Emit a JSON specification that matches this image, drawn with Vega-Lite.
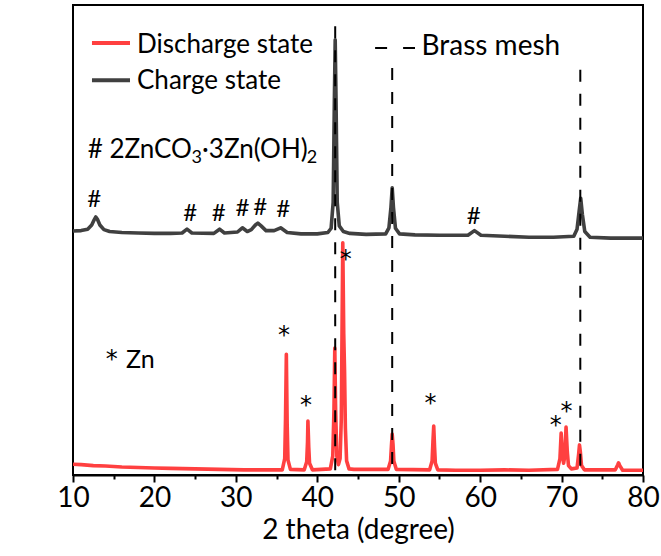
{
  "$schema": "https://vega.github.io/schema/vega-lite/v6.json",
  "width": 570,
  "height": 470,
  "autosize": {"type": "none"},
  "padding": {"left": 73, "top": 5, "right": 18, "bottom": 81},
  "background": "white",
  "config": {
    "font": "Lato",
    "view": {"stroke": "#000", "strokeWidth": 2},
    "axis": {"grid": false}
  },
  "datasets": {
    "spectra": [
      {"state": "Discharge state", "theta": 10, "intensity": 2.3},
      {"state": "Discharge state", "theta": 11, "intensity": 2.2},
      {"state": "Discharge state", "theta": 12.5, "intensity": 2.0},
      {"state": "Discharge state", "theta": 14, "intensity": 1.9},
      {"state": "Discharge state", "theta": 16, "intensity": 1.7},
      {"state": "Discharge state", "theta": 18, "intensity": 1.6},
      {"state": "Discharge state", "theta": 20, "intensity": 1.5},
      {"state": "Discharge state", "theta": 22, "intensity": 1.4},
      {"state": "Discharge state", "theta": 25, "intensity": 1.3},
      {"state": "Discharge state", "theta": 28, "intensity": 1.2},
      {"state": "Discharge state", "theta": 31, "intensity": 1.1},
      {"state": "Discharge state", "theta": 34, "intensity": 1.1},
      {"state": "Discharge state", "theta": 35.7, "intensity": 1.1},
      {"state": "Discharge state", "theta": 36.0, "intensity": 3.5},
      {"state": "Discharge state", "theta": 36.1, "intensity": 12},
      {"state": "Discharge state", "theta": 36.2, "intensity": 25.7},
      {"state": "Discharge state", "theta": 36.3, "intensity": 11},
      {"state": "Discharge state", "theta": 36.4, "intensity": 3.2},
      {"state": "Discharge state", "theta": 36.7, "intensity": 1.2},
      {"state": "Discharge state", "theta": 38.4, "intensity": 1.1},
      {"state": "Discharge state", "theta": 38.7, "intensity": 2.8},
      {"state": "Discharge state", "theta": 38.8, "intensity": 7},
      {"state": "Discharge state", "theta": 38.85, "intensity": 11.5},
      {"state": "Discharge state", "theta": 38.95, "intensity": 6},
      {"state": "Discharge state", "theta": 39.05, "intensity": 2.5},
      {"state": "Discharge state", "theta": 39.4, "intensity": 1.1},
      {"state": "Discharge state", "theta": 41.6, "intensity": 1.3},
      {"state": "Discharge state", "theta": 41.9, "intensity": 4},
      {"state": "Discharge state", "theta": 42.05, "intensity": 14},
      {"state": "Discharge state", "theta": 42.15, "intensity": 27.0},
      {"state": "Discharge state", "theta": 42.25, "intensity": 14},
      {"state": "Discharge state", "theta": 42.4, "intensity": 4},
      {"state": "Discharge state", "theta": 42.6, "intensity": 2.2},
      {"state": "Discharge state", "theta": 42.8, "intensity": 3.5},
      {"state": "Discharge state", "theta": 42.95, "intensity": 12},
      {"state": "Discharge state", "theta": 43.13, "intensity": 49.4},
      {"state": "Discharge state", "theta": 43.25, "intensity": 30},
      {"state": "Discharge state", "theta": 43.35, "intensity": 22},
      {"state": "Discharge state", "theta": 43.45, "intensity": 10},
      {"state": "Discharge state", "theta": 43.6, "intensity": 3},
      {"state": "Discharge state", "theta": 43.9, "intensity": 1.3},
      {"state": "Discharge state", "theta": 44.5, "intensity": 1.2},
      {"state": "Discharge state", "theta": 48.7, "intensity": 1.2},
      {"state": "Discharge state", "theta": 49.0, "intensity": 3},
      {"state": "Discharge state", "theta": 49.1, "intensity": 6},
      {"state": "Discharge state", "theta": 49.2, "intensity": 8.7},
      {"state": "Discharge state", "theta": 49.3, "intensity": 6.5},
      {"state": "Discharge state", "theta": 49.4, "intensity": 3},
      {"state": "Discharge state", "theta": 49.7, "intensity": 1.2},
      {"state": "Discharge state", "theta": 53.8, "intensity": 1.1},
      {"state": "Discharge state", "theta": 54.1, "intensity": 3},
      {"state": "Discharge state", "theta": 54.2, "intensity": 7},
      {"state": "Discharge state", "theta": 54.3, "intensity": 10.4},
      {"state": "Discharge state", "theta": 54.4, "intensity": 6},
      {"state": "Discharge state", "theta": 54.5, "intensity": 2.5},
      {"state": "Discharge state", "theta": 54.8, "intensity": 1.1},
      {"state": "Discharge state", "theta": 57, "intensity": 1.0},
      {"state": "Discharge state", "theta": 60, "intensity": 1.0},
      {"state": "Discharge state", "theta": 63, "intensity": 1.1},
      {"state": "Discharge state", "theta": 66, "intensity": 1.0},
      {"state": "Discharge state", "theta": 69.5, "intensity": 1.2},
      {"state": "Discharge state", "theta": 69.8, "intensity": 3.5},
      {"state": "Discharge state", "theta": 69.95, "intensity": 8.9},
      {"state": "Discharge state", "theta": 70.1, "intensity": 4.5},
      {"state": "Discharge state", "theta": 70.25, "intensity": 2.5},
      {"state": "Discharge state", "theta": 70.4, "intensity": 4},
      {"state": "Discharge state", "theta": 70.55, "intensity": 10.2},
      {"state": "Discharge state", "theta": 70.7, "intensity": 5},
      {"state": "Discharge state", "theta": 70.85, "intensity": 2},
      {"state": "Discharge state", "theta": 71.2, "intensity": 1.3},
      {"state": "Discharge state", "theta": 71.9, "intensity": 1.5},
      {"state": "Discharge state", "theta": 72.1, "intensity": 4.5},
      {"state": "Discharge state", "theta": 72.2, "intensity": 6.4},
      {"state": "Discharge state", "theta": 72.3, "intensity": 5},
      {"state": "Discharge state", "theta": 72.45, "intensity": 2},
      {"state": "Discharge state", "theta": 72.8, "intensity": 1.1},
      {"state": "Discharge state", "theta": 76.6, "intensity": 1.1},
      {"state": "Discharge state", "theta": 76.9, "intensity": 2.2},
      {"state": "Discharge state", "theta": 77.0, "intensity": 2.6},
      {"state": "Discharge state", "theta": 77.15, "intensity": 2.0},
      {"state": "Discharge state", "theta": 77.5, "intensity": 1.0},
      {"state": "Discharge state", "theta": 80, "intensity": 1.0},

      {"state": "Charge state", "theta": 10, "intensity": 51.9},
      {"state": "Charge state", "theta": 11, "intensity": 52.0},
      {"state": "Charge state", "theta": 11.8, "intensity": 52.3},
      {"state": "Charge state", "theta": 12.3, "intensity": 53.2},
      {"state": "Charge state", "theta": 12.6, "intensity": 54.3},
      {"state": "Charge state", "theta": 12.8, "intensity": 54.9},
      {"state": "Charge state", "theta": 13.0, "intensity": 54.4},
      {"state": "Charge state", "theta": 13.3, "intensity": 53.2},
      {"state": "Charge state", "theta": 13.8, "intensity": 52.2},
      {"state": "Charge state", "theta": 14.5, "intensity": 51.8},
      {"state": "Charge state", "theta": 16, "intensity": 51.6},
      {"state": "Charge state", "theta": 18, "intensity": 51.5},
      {"state": "Charge state", "theta": 20, "intensity": 51.4},
      {"state": "Charge state", "theta": 22, "intensity": 51.4},
      {"state": "Charge state", "theta": 23.4, "intensity": 51.5},
      {"state": "Charge state", "theta": 24.0, "intensity": 52.3},
      {"state": "Charge state", "theta": 24.6, "intensity": 51.5},
      {"state": "Charge state", "theta": 27.3, "intensity": 51.4},
      {"state": "Charge state", "theta": 28.0, "intensity": 52.3},
      {"state": "Charge state", "theta": 28.6, "intensity": 51.5},
      {"state": "Charge state", "theta": 30.2, "intensity": 51.7},
      {"state": "Charge state", "theta": 30.8, "intensity": 52.6},
      {"state": "Charge state", "theta": 31.4, "intensity": 51.8},
      {"state": "Charge state", "theta": 31.9, "intensity": 52.2},
      {"state": "Charge state", "theta": 32.4, "intensity": 53.2},
      {"state": "Charge state", "theta": 32.7, "intensity": 53.6},
      {"state": "Charge state", "theta": 33.1, "intensity": 53.0},
      {"state": "Charge state", "theta": 33.7, "intensity": 52.0},
      {"state": "Charge state", "theta": 34.7, "intensity": 52.0},
      {"state": "Charge state", "theta": 35.5, "intensity": 52.6},
      {"state": "Charge state", "theta": 36.3, "intensity": 51.6},
      {"state": "Charge state", "theta": 38, "intensity": 51.3},
      {"state": "Charge state", "theta": 40, "intensity": 51.3},
      {"state": "Charge state", "theta": 41.3, "intensity": 51.6},
      {"state": "Charge state", "theta": 41.7, "intensity": 52.5},
      {"state": "Charge state", "theta": 41.95, "intensity": 58},
      {"state": "Charge state", "theta": 42.1, "intensity": 80},
      {"state": "Charge state", "theta": 42.2, "intensity": 92.6},
      {"state": "Charge state", "theta": 42.3, "intensity": 80},
      {"state": "Charge state", "theta": 42.45, "intensity": 58},
      {"state": "Charge state", "theta": 42.7, "intensity": 53},
      {"state": "Charge state", "theta": 43.2, "intensity": 51.8},
      {"state": "Charge state", "theta": 44, "intensity": 51.4},
      {"state": "Charge state", "theta": 46, "intensity": 51.2},
      {"state": "Charge state", "theta": 48.4, "intensity": 51.3},
      {"state": "Charge state", "theta": 48.8, "intensity": 52.6},
      {"state": "Charge state", "theta": 49.05, "intensity": 57},
      {"state": "Charge state", "theta": 49.2, "intensity": 61.1},
      {"state": "Charge state", "theta": 49.35, "intensity": 57},
      {"state": "Charge state", "theta": 49.6, "intensity": 52.5},
      {"state": "Charge state", "theta": 50.1, "intensity": 51.3},
      {"state": "Charge state", "theta": 52, "intensity": 51.1},
      {"state": "Charge state", "theta": 55, "intensity": 51.0},
      {"state": "Charge state", "theta": 58.5, "intensity": 51.0},
      {"state": "Charge state", "theta": 59.3, "intensity": 52.0},
      {"state": "Charge state", "theta": 60.1, "intensity": 51.0},
      {"state": "Charge state", "theta": 63, "intensity": 50.8},
      {"state": "Charge state", "theta": 66, "intensity": 50.6},
      {"state": "Charge state", "theta": 69, "intensity": 50.6},
      {"state": "Charge state", "theta": 71.5, "intensity": 50.8},
      {"state": "Charge state", "theta": 71.9, "intensity": 52.3},
      {"state": "Charge state", "theta": 72.15, "intensity": 56},
      {"state": "Charge state", "theta": 72.35, "intensity": 58.9},
      {"state": "Charge state", "theta": 72.55, "intensity": 55.5},
      {"state": "Charge state", "theta": 72.85, "intensity": 51.8},
      {"state": "Charge state", "theta": 73.5, "intensity": 50.6},
      {"state": "Charge state", "theta": 76, "intensity": 50.4},
      {"state": "Charge state", "theta": 80, "intensity": 50.4}
    ],
    "brass": [
      {"theta": 42.2, "top": 95.5},
      {"theta": 49.2, "top": 86.6},
      {"theta": 72.3, "top": 86.2}
    ],
    "hashes": [
      {"theta": 12.6, "intensity": 58.5, "text": "#"},
      {"theta": 24.4, "intensity": 55.5, "text": "#"},
      {"theta": 27.9, "intensity": 55.5, "text": "#"},
      {"theta": 30.8, "intensity": 56.6, "text": "#"},
      {"theta": 33.0, "intensity": 56.8, "text": "#"},
      {"theta": 35.8, "intensity": 56.4, "text": "#"},
      {"theta": 59.2, "intensity": 55.0, "text": "#"}
    ],
    "stars": [
      {"theta": 35.9, "intensity": 30.9, "text": "*"},
      {"theta": 38.6, "intensity": 16.0, "text": "*"},
      {"theta": 43.5, "intensity": 47.0, "text": "*"},
      {"theta": 53.9, "intensity": 16.4, "text": "*"},
      {"theta": 69.3, "intensity": 11.7, "text": "*"},
      {"theta": 70.6, "intensity": 14.7, "text": "*"},
      {"theta": 14.75, "intensity": 25.7, "text": "*"}
    ],
    "formula": [
      {"theta": 11.8, "intensity": 69.1, "text": "# 2ZnCO"},
      {"theta": 25.85, "intensity": 69.1, "text": "·3Zn(OH)"}
    ],
    "formulaSub": [
      {"theta": 24.55, "intensity": 67.5, "text": "3"},
      {"theta": 38.7, "intensity": 67.5, "text": "2"}
    ],
    "znLabel": [
      {"theta": 16.5, "intensity": 24.5, "text": "Zn"}
    ],
    "keyLabels": [
      {"theta": 17.86, "intensity": 91.5, "text": "Discharge state"},
      {"theta": 17.86, "intensity": 83.8, "text": "Charge state"}
    ],
    "brassLabel": [
      {"theta": 52.8, "intensity": 91.1, "text": "Brass mesh"}
    ],
    "keyLines": [
      {"state": "Discharge state", "from": 12.33, "to": 17.0, "intensity": 91.9},
      {"state": "Charge state", "from": 12.33, "to": 17.0, "intensity": 84.0}
    ],
    "keyDash": [
      {"from": 47.1, "to": 52.0, "intensity": 90.85}
    ]
  },
  "resolve": {"axis": {"x": "independent"}},
  "layer": [
    {
      "data": {"name": "spectra"},
      "mark": {"type": "line", "strokeWidth": 3.6, "strokeJoin": "round", "clip": true},
      "encoding": {
        "x": {
          "field": "theta", "type": "quantitative",
          "scale": {"domain": [10, 80], "nice": false, "zero": false},
          "axis": {
            "orient": "bottom",
            "values": [10, 20, 30, 40, 50, 60, 70, 80],
            "title": "2 theta (degree)",
            "tickSize": 7, "tickWidth": 2, "tickColor": "#000",
            "domainColor": "#000", "domainWidth": 2,
            "labelFontSize": 28, "labelColor": "#000", "labelPadding": 2, "labelFlush": false,
            "titleFontSize": 28, "titleFontWeight": "normal", "titleColor": "#000", "titlePadding": 4
          }
        },
        "y": {
          "field": "intensity", "type": "quantitative",
          "scale": {"domain": [0, 100], "nice": false, "zero": false},
          "axis": {
            "title": "Intensity (a.u.)",
            "ticks": false, "labels": false,
            "domainColor": "#000", "domainWidth": 2,
            "titleFontSize": 27, "titleFontWeight": "normal", "titleColor": "#000",
            "titlePadding": 31, "titleY": 226
          }
        },
        "color": {
          "field": "state", "type": "nominal",
          "scale": {"domain": ["Discharge state", "Charge state"], "range": ["#ff4040", "#404040"]},
          "legend": null
        },
        "order": {"field": "theta", "type": "quantitative"}
      }
    },
    {
      "data": {"name": "brass"},
      "mark": {"type": "rule", "color": "#000", "strokeWidth": 2, "strokeDash": [12, 12]},
      "encoding": {
        "x": {
          "field": "theta", "type": "quantitative",
          "axis": {
            "orient": "bottom",
            "values": [15, 25, 35, 45, 55, 65, 75],
            "labels": false, "domain": false, "title": null,
            "tickSize": 4, "tickWidth": 2, "tickColor": "#000"
          }
        },
        "y": {"field": "top", "type": "quantitative", "axis": null},
        "y2": {"datum": 0}
      }
    },
    {
      "data": {"name": "hashes"},
      "mark": {"type": "text", "fontSize": 24, "color": "#000", "baseline": "middle", "align": "center"},
      "encoding": {
        "x": {"field": "theta", "type": "quantitative", "axis": null},
        "y": {"field": "intensity", "type": "quantitative", "axis": null},
        "text": {"field": "text"}
      }
    },
    {
      "data": {"name": "stars"},
      "mark": {"type": "text", "font": "DejaVu Sans", "fontSize": 24, "color": "#000", "baseline": "middle", "align": "center", "dy": 6},
      "encoding": {
        "x": {"field": "theta", "type": "quantitative", "axis": null},
        "y": {"field": "intensity", "type": "quantitative", "axis": null},
        "text": {"field": "text"}
      }
    },
    {
      "data": {"name": "keyLines"},
      "mark": {"type": "rule", "strokeWidth": 4},
      "encoding": {
        "x": {"field": "from", "type": "quantitative", "axis": null},
        "x2": {"field": "to"},
        "y": {"field": "intensity", "type": "quantitative", "axis": null},
        "color": {"field": "state", "type": "nominal", "legend": null}
      }
    },
    {
      "data": {"name": "keyDash"},
      "mark": {"type": "rule", "strokeWidth": 2, "color": "#000", "strokeDash": [12, 16]},
      "encoding": {
        "x": {"field": "from", "type": "quantitative", "axis": null},
        "x2": {"field": "to"},
        "y": {"field": "intensity", "type": "quantitative", "axis": null}
      }
    },
    {
      "data": {"name": "keyLabels"},
      "mark": {"type": "text", "fontSize": 26, "color": "#000", "baseline": "middle", "align": "left"},
      "encoding": {
        "x": {"field": "theta", "type": "quantitative", "axis": null},
        "y": {"field": "intensity", "type": "quantitative", "axis": null},
        "text": {"field": "text"}
      }
    },
    {
      "data": {"name": "brassLabel"},
      "mark": {"type": "text", "fontSize": 28, "color": "#000", "baseline": "middle", "align": "left"},
      "encoding": {
        "x": {"field": "theta", "type": "quantitative", "axis": null},
        "y": {"field": "intensity", "type": "quantitative", "axis": null},
        "text": {"field": "text"}
      }
    },
    {
      "data": {"name": "znLabel"},
      "mark": {"type": "text", "fontSize": 25, "color": "#000", "baseline": "middle", "align": "left"},
      "encoding": {
        "x": {"field": "theta", "type": "quantitative", "axis": null},
        "y": {"field": "intensity", "type": "quantitative", "axis": null},
        "text": {"field": "text"}
      }
    },
    {
      "data": {"name": "formula"},
      "mark": {"type": "text", "fontSize": 26, "color": "#000", "baseline": "middle", "align": "left"},
      "encoding": {
        "x": {"field": "theta", "type": "quantitative", "axis": null},
        "y": {"field": "intensity", "type": "quantitative", "axis": null},
        "text": {"field": "text"}
      }
    },
    {
      "data": {"name": "formulaSub"},
      "mark": {"type": "text", "fontSize": 18, "color": "#000", "baseline": "middle", "align": "left"},
      "encoding": {
        "x": {"field": "theta", "type": "quantitative", "axis": null},
        "y": {"field": "intensity", "type": "quantitative", "axis": null},
        "text": {"field": "text"}
      }
    }
  ]
}
